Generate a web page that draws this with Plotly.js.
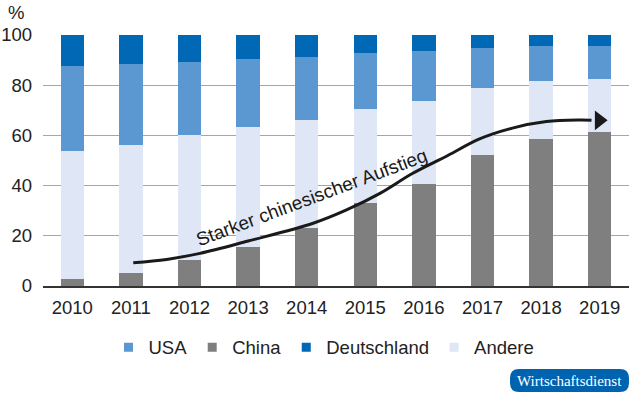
<!DOCTYPE html>
<html>
<head>
<meta charset="utf-8">
<script src="https://cdn.plot.ly/plotly-3.0.1.min.js"></script>
<style>html,body{margin:0;padding:0;background:#fff;}#chart{width:629px;height:399px;}</style>
</head>
<body>
<div id="chart"></div>
<script>
// ---- data ----
var years = [2010, 2011, 2012, 2013, 2014, 2015, 2016, 2017, 2018, 2019];
var yearLabels = ["2010", "2011", "2012", "2013", "2014", "2015", "2016", "2017", "2018", "2019"];
var china = [2.7, 5.0, 10.5, 15.4, 23.0, 32.9, 40.6, 52.3, 58.7, 61.4];
var andere = [51.1, 51.2, 49.7, 47.9, 43.0, 37.7, 33.1, 26.7, 23.1, 21.2];
var usa = [33.8, 32.1, 29.0, 27.1, 25.2, 22.2, 19.9, 16.0, 13.7, 12.9];
var deutschland = [12.4, 11.7, 10.8, 9.6, 8.8, 7.2, 6.4, 5.0, 4.5, 4.5];
var yTicks = [0, 20, 40, 60, 80, 100];
// annotation curve (year, %)
var curveX = [2011.04, 2011.61, 2012.18, 2013.0, 2014.11, 2014.68, 2015.25, 2015.81, 2016.40, 2016.95, 2017.51, 2018.09, 2018.65, 2018.86];
var curveY = [9.3, 10.6, 13.0, 17.9, 25.0, 30.3, 36.9, 44.9, 51.9, 58.6, 62.9, 65.5, 66.1, 66.0];
var arrowX = [2018.99];
var arrowY = [66.0];
var curveLabel = "Starker chinesischer Aufstieg";

var colors = {USA: "#5b97d0", China: "#7f7f7f", Deutschland: "#0068b4", Andere: "#dfe6f5"};
var FONT = "Liberation Sans, Arial, sans-serif";
var FS = 18.5;

function barTrace(name, vals) {
  return {type: "bar", x: years, y: vals, name: name, showlegend: false,
          marker: {color: colors[name]}, hoverinfo: "skip"};
}
function legendTrace(name, rank) {
  return {type: "scatter", mode: "markers", x: [null], y: [null], name: name, legendrank: rank,
          marker: {symbol: "square", size: 9, color: colors[name]}, hoverinfo: "skip"};
}

var traces = [
  barTrace("China", china),
  barTrace("Andere", andere),
  barTrace("USA", usa),
  barTrace("Deutschland", deutschland),
  {type: "scatter", mode: "lines", x: curveX, y: curveY, line: {shape: "spline", color: "#1a1a1a", width: 3},
   showlegend: false, hoverinfo: "skip"},
  {type: "scatter", mode: "markers", x: arrowX, y: arrowY, marker: {symbol: "triangle-right", size: 17, color: "#1a1a1a"},
   showlegend: false, hoverinfo: "skip"},
  legendTrace("USA", 1),
  legendTrace("China", 2),
  legendTrace("Deutschland", 3),
  legendTrace("Andere", 4)
];

// pixel -> paper helpers (plot area: x 43..629, y 35..286)
var L = 43, R = 629, T = 35, B = 286;
function px(x) { return (x - L) / (R - L); }
function py(y) { return (B - y) / (B - T); }
function roundRect(x0, y0, x1, y1, r) {
  return "M" + px(x0 + r) + "," + py(y0) +
    " L" + px(x1 - r) + "," + py(y0) +
    " Q" + px(x1) + "," + py(y0) + " " + px(x1) + "," + py(y0 + r) +
    " L" + px(x1) + "," + py(y1 - r) +
    " Q" + px(x1) + "," + py(y1) + " " + px(x1 - r) + "," + py(y1) +
    " L" + px(x0 + r) + "," + py(y1) +
    " Q" + px(x0) + "," + py(y1) + " " + px(x0) + "," + py(y1 - r) +
    " L" + px(x0) + "," + py(y0 + r) +
    " Q" + px(x0) + "," + py(y0) + " " + px(x0 + r) + "," + py(y0) + " Z";
}

var layout = {
  width: 629, height: 399,
  margin: {l: L, r: 629 - R, t: T, b: 399 - B, pad: 0},
  paper_bgcolor: "#fff", plot_bgcolor: "#fff",
  barmode: "stack", bargap: 0.6,
  font: {family: FONT, size: FS, color: "#222"},
  xaxis: {type: "linear", range: [2009.5, 2019.5], tickvals: years, ticktext: yearLabels,
          showgrid: false, zeroline: false, showline: true, linecolor: "#333", linewidth: 2,
          ticks: "", ticklabelstandoff: 4, fixedrange: true},
  yaxis: {range: [0, 100], tickvals: yTicks, ticktext: yTicks.map(String), showgrid: true,
          gridcolor: "#a6a6a6", gridwidth: 1, zeroline: false, showline: false, ticks: "",
          ticklabelstandoff: 10, fixedrange: true},
  showlegend: true,
  legend: {orientation: "h", traceorder: "normal", x: px(324), xanchor: "center", y: py(347.7), yanchor: "middle",
           font: {family: FONT, size: FS, color: "#222"}, bgcolor: "rgba(0,0,0,0)"},
  shapes: [
    {type: "path", xref: "paper", yref: "paper", path: roundRect(510, 369, 629, 392, 9),
     fillcolor: "#0063b0", line: {width: 0}, layer: "above"}
  ],
  annotations: [
    {xref: "paper", yref: "paper", x: px(15.5), y: py(12), text: "%", showarrow: false,
     xanchor: "center", yanchor: "middle", font: {family: FONT, size: FS, color: "#222"}},
    {xref: "x", yref: "y", x: 2014.08, y: 35.4, text: curveLabel, showarrow: false, textangle: -20.5,
     xanchor: "center", yanchor: "middle", font: {family: FONT, size: 19, color: "#1a1a1a"}},
    {xref: "paper", yref: "paper", x: px(569.5), y: py(380.5), text: "Wirtschaftsdienst", showarrow: false,
     xanchor: "center", yanchor: "middle", font: {family: "Liberation Serif, Times New Roman, serif", size: 15, color: "#fff"}}
  ]
};

Plotly.newPlot("chart", traces, layout, {staticPlot: true, displayModeBar: false});
</script>
</body>
</html>
